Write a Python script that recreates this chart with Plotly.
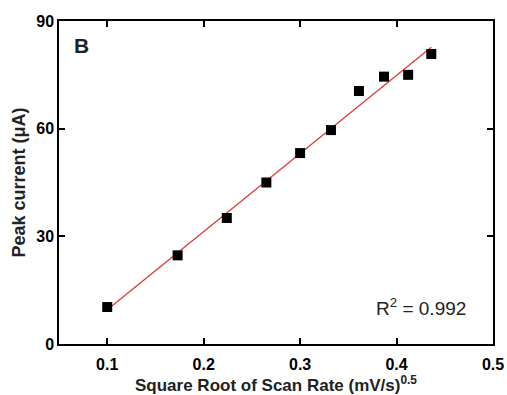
import numpy as np
import plotly.graph_objects as go

scan_rate_sqrt = [0.100, 0.173, 0.224, 0.265, 0.300, 0.332, 0.361, 0.387, 0.412, 0.436]
peak_current = [10.3, 24.7, 35.1, 45.0, 53.2, 59.6, 70.5, 74.5, 75.0, 80.8]
x_ticks = [0.1, 0.2, 0.3, 0.4, 0.5]
y_ticks = [0, 30, 60, 90]

slope, intercept = np.polyfit(scan_rate_sqrt, peak_current, 1)
fit_x = [min(scan_rate_sqrt), max(scan_rate_sqrt)]
fit_y = [slope * v + intercept for v in fit_x]

fig = go.Figure()
fig.add_trace(go.Scatter(x=fit_x, y=fit_y, mode="lines",
                         line=dict(color="#e0383a", width=1.3), showlegend=False))
fig.add_trace(go.Scatter(x=scan_rate_sqrt, y=peak_current, mode="markers",
                         marker=dict(symbol="square", size=10, color="black"),
                         showlegend=False))

font_family = "Liberation Sans, Arial, sans-serif"
axis_common = dict(showline=True, linecolor="black", linewidth=1.5, mirror="ticks",
                   ticks="inside", ticklen=6, tickwidth=1.5, tickcolor="black",
                   showgrid=False, zeroline=False, automargin=False,
                   tickfont=dict(family=font_family, size=16, color="black", weight="bold"))

fig.update_xaxes(range=[0.05, 0.5], tickvals=x_ticks, ticktext=[f"{v:.1f}" for v in x_ticks],
                 ticklabelstandoff=5,
                 title=dict(text="<b>Square Root of Scan Rate (mV/s)<sup>0.5</sup></b>",
                            font=dict(family=font_family, size=17, color="#222"), standoff=10),
                 **axis_common)
fig.update_yaxes(range=[0, 90], tickvals=y_ticks, ticktext=[str(v) for v in y_ticks],
                 title=dict(text="<b>Peak current (μA)</b>",
                            font=dict(family=font_family, size=18, color="#222"), standoff=6),
                 **axis_common)

fig.add_annotation(x=0.03, y=0.965, xref="paper", yref="paper", text="<b>B</b>",
                   showarrow=False, xanchor="left", yanchor="top",
                   font=dict(family=font_family, size=21, color="#222"))
fig.add_annotation(x=0.943, y=0.115, xref="paper", yref="paper", text="R<sup>2</sup> = 0.992",
                   showarrow=False, xanchor="right", yanchor="middle",
                   font=dict(family=font_family, size=19, color="#222"))

fig.update_layout(width=507, height=395, margin=dict(l=59, r=14, t=21, b=51),
                  paper_bgcolor="white", plot_bgcolor="white")
fig.write_html("out.html")
